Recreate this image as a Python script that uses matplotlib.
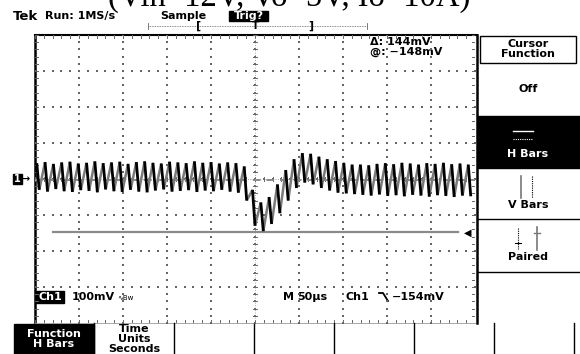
import numpy as np
import matplotlib
matplotlib.use("Agg")
import matplotlib.pyplot as plt
from matplotlib.collections import LineCollection
from matplotlib.patches import Rectangle

# ---------------- data ----------------
title_text = "(Vin=12V, Vo=5V, Io=10A)"
ripple_period_us = 9.43
first_peak_us = -248.0
# ripple peak (hi) and trough (lo) per switching cycle, mV
cycle_hi = [44, 47, 42, 46, 48, 43, 45, 49, 44, 46, 48, 42, 47, 49, 45, 43, 48, 46, 44, 49,
            45, 47, 43, 46, 44,
            35, -30, -65, -50, -15, 25, 55, 72, 70, 62, 55, 50, 45, 40,
            40, 38, 42, 44, 41, 45, 43, 40, 44, 42, 45, 41, 43, 40]
cycle_lo = [-30, -35, -28, -34, -36, -31, -33, -37, -29, -34, -36, -30, -35, -37, -32, -29,
            -35, -33, -31, -36, -32, -34, -30, -35, -38,
            -60, -130, -145, -125, -95, -60, -25, -10, -15, -25, -32, -38, -40, -42,
            -44, -46, -43, -47, -45, -48, -44, -46, -49, -45, -47, -50, -46, -48]
cursor1_mV = -4.0
cursor2_mV = -148.0
cursor_delta = "144mV"
cursor_at = "\u2212148mV"
volts_per_div = "100mV"
time_per_div = "50\u00b5s"
trig_level = "\u2212154mV"
side_menu = ["Cursor\nFunction", "Off", "H Bars", "V Bars", "Paired"]
bottom_menu = ["Function\nH Bars", "Time\nUnits\nSeconds"]

# ---------------- figure ----------------
W, H = 580, 354
fig = plt.figure(figsize=(W / 100, H / 100), dpi=100)
fig.patch.set_facecolor("white")
ov = fig.add_axes([0, 0, 1, 1], zorder=0)
ov.set_xlim(0, W)
ov.set_ylim(H, 0)
ov.axis("off")

GL, GR, GT, GB = 35, 475, 35, 323
ax = fig.add_axes([GL / W, (H - GB) / H, (GR - GL) / W, (GB - GT) / H], zorder=1)
ax.set_xlim(-250, 250)
ax.set_ylim(-400, 400)
ax.patch.set_alpha(0)
ax.set_xticks([])
ax.set_yticks([])
for s in ax.spines.values():
    s.set_visible(False)

px_x = 500 / (GR - GL)   # us per pixel
px_y = 800 / (GB - GT)   # mV per pixel

# graticule border
ov.plot([GL, GL], [GT, GB], color="black", lw=1.8)
ov.plot([GL, GR + 2], [GT, GT], color="black", lw=1.5)
ov.plot([GR + 2, GR + 2], [GT, GB], color="black", lw=1.8)
ov.plot([GL, GR], [GB, GB], color="#999999", lw=0.6)

tick_col = "#666666"
# edge ticks
xs_minor = np.arange(-250, 251, 10)
ys_minor = np.arange(-400, 401, 20)
for x in xs_minor:
    ax.plot([x, x], [400, 400 - 3 * px_y], color=tick_col, lw=0.7)
    ax.plot([x, x], [-400, -400 + 3 * px_y], color=tick_col, lw=0.7)
    ax.plot([x, x], [-2 * px_y, 2 * px_y], color=tick_col, lw=0.7)
for y in ys_minor:
    ax.plot([-250, -250 + 3 * px_x], [y, y], color=tick_col, lw=0.7)
    ax.plot([250, 250 - 3 * px_x], [y, y], color=tick_col, lw=0.7)
    ax.plot([-2 * px_x, 2 * px_x], [y, y], color=tick_col, lw=0.7)
# grid dots
gx, gy = [], []
for xm in range(-200, 201, 50):
    for y in ys_minor:
        gx.append(xm); gy.append(y)
for ym in range(-300, 301, 100):
    for x in xs_minor:
        gx.append(x); gy.append(ym)
ax.scatter(gx, gy, s=0.9, color="#666666", marker="s", linewidths=0)
ax.plot([0, 0], [-400, 400], color="#888888", lw=0.6, ls=(0, (1, 2)))
ax.plot([-250, 250], [0, 0], color="#888888", lw=0.6, ls=(0, (1, 2)))

# cursors
ax.plot([-250, 250], [cursor1_mV, cursor1_mV], color="#8a8a8a", lw=1.4, ls=(0, (4, 3)), zorder=2)
ax.plot([-230, 231], [cursor2_mV, cursor2_mV], color="#8a8a8a", lw=1.6, zorder=2)
ax.text(246, cursor2_mV, "\u25c0", color="black", fontsize=7, ha="right", va="center")

# trace
P = ripple_period_us
fall, rise = [], []
n = len(cycle_hi)
for k in range(n):
    t = first_peak_us + k * P
    fall.append([(t, cycle_hi[k]), (t + 0.3 * P, cycle_lo[k])])
    if k + 1 < n:
        rise.append([(t + 0.3 * P, cycle_lo[k]), (t + P, cycle_hi[k + 1])])
ax.add_collection(LineCollection(rise, colors="#7a7a7a", linewidths=1.8, zorder=3))
ax.add_collection(LineCollection(fall, colors="black", linewidths=2.0, zorder=4))

# ---------------- text / UI ----------------
tf = dict(family="DejaVu Sans", fontweight="bold", fontsize=8)
ov.text(289.5, 6, title_text, family="Liberation Serif", fontsize=23.5,
        ha="center", va="baseline")
ov.text(13, 16, "Tek", family="DejaVu Sans", fontweight="bold", fontsize=9.5, va="center")
ov.text(45, 16, "Run: 1MS/s", va="center", **tf)
ov.text(160, 16, "Sample", va="center", **tf)
ov.add_patch(Rectangle((229, 11), 39, 10, color="black"))
ov.text(248.5, 16, "Trig?", va="center", ha="center", color="white", **tf)

# record view bar
ov.plot([148, 367], [26, 26], color="#666666", lw=0.6, ls=(0, (1, 1)))
for xx in (148, 367):
    ov.plot([xx, xx], [23, 29], color="#666666", lw=0.6)
ov.text(199, 26, "[", va="center", ha="center", fontsize=8, fontweight="bold")
ov.text(255, 26, "T", va="center", ha="center", fontsize=7.5, fontweight="bold")
ov.text(311, 26, "]", va="center", ha="center", fontsize=8, fontweight="bold")

ov.text(370, 42, "\u0394: " + cursor_delta, va="center", **tf)
ov.text(370, 52, "@: " + cursor_at, va="center", **tf)

# ground marker
ov.add_patch(Rectangle((13, 174), 9, 10, color="black"))
ov.text(17.5, 179, "1", color="white", ha="center", va="center", fontsize=7, fontweight="bold")
ov.text(21, 179, "\u2192", ha="left", va="center", fontsize=7, fontweight="bold")

# bottom status row
ov.add_patch(Rectangle((36, 291), 28, 12, color="black"))
ov.text(50, 297, "Ch1", color="white", ha="center", va="center", **tf)
ov.text(72, 297, volts_per_div, va="center", **tf)
ov.text(117, 298, "\u223fBw", va="center", family="DejaVu Sans", fontsize=5)
ov.text(283, 297, "M", va="center", **tf)
ov.text(297, 297, time_per_div, va="center", **tf)
ov.text(345, 297, "Ch1", va="center", **tf)
ov.plot([379, 383, 388], [293, 293, 301], color="black", lw=1.3)
ov.text(392, 297, trig_level, va="center", **tf)

# side menu
ov.add_patch(Rectangle((480, 36), 96, 27, fill=False, ec="black", lw=1))
ov.text(528, 49, side_menu[0], ha="center", va="center", linespacing=0.95, **tf)
ov.text(528, 89, side_menu[1], ha="center", va="center", **tf)
ov.add_patch(Rectangle((478, 116), 102, 52, color="black"))
ov.plot([513, 533], [131, 131], color="white", lw=1)
ov.plot([513, 533], [139, 139], color="white", lw=0.8, ls=(0, (1, 1)))
ov.text(528, 154, side_menu[2], ha="center", va="center", color="white", **tf)
ov.plot([521, 521], [176, 198], color="#777777", lw=1.2)
ov.plot([532, 532], [176, 198], color="black", lw=0.8, ls=(0, (1, 1)))
ov.text(528, 205, side_menu[3], ha="center", va="center", **tf)
ov.plot([478, 580], [219, 219], color="black", lw=1)
ov.plot([518, 518], [228, 249], color="black", lw=0.8, ls=(0, (1, 1)))
ov.plot([515, 521], [243, 243], color="black", lw=0.8)
ov.plot([537, 537], [227, 250], color="#777777", lw=1.2)
ov.plot([534, 540], [233, 233], color="#777777", lw=1)
ov.text(528, 257, side_menu[4], ha="center", va="center", **tf)
ov.plot([478, 580], [272, 272], color="black", lw=1)

# bottom menu
ov.add_patch(Rectangle((14, 324), 80, 31, color="black"))
ov.text(54, 339, bottom_menu[0], ha="center", va="center", color="white",
        linespacing=0.95, **tf)
ov.text(134, 339, bottom_menu[1], ha="center", va="center", linespacing=1.0, **tf)
for xx in (94, 174, 254, 334, 414, 494, 574):
    ov.plot([xx, xx], [323, 354], color="black", lw=1)

fig.savefig("out.png", dpi=100, facecolor="white")
